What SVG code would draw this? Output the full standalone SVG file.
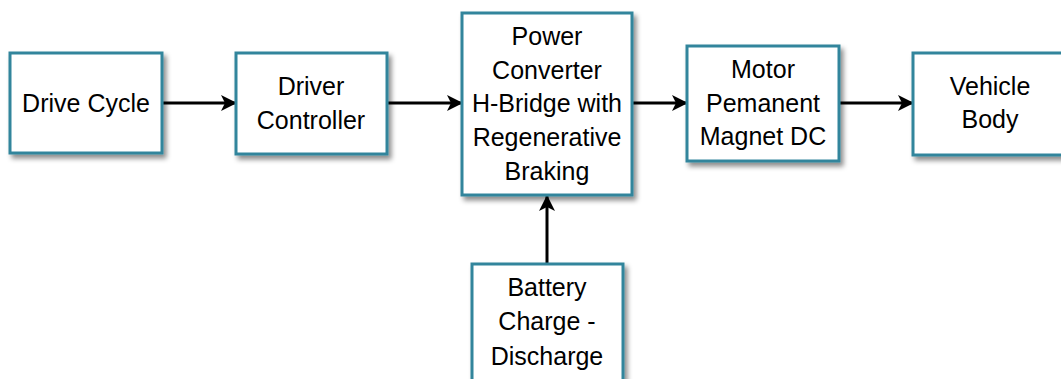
<svg xmlns="http://www.w3.org/2000/svg" width="1061" height="379" viewBox="0 0 1061 379">
<style>
.box{fill:#fff;stroke:#31859C;stroke-width:3;filter:url(#sh)}
.t{font-family:"Liberation Sans",Arial,sans-serif;font-size:25px;fill:#000;text-anchor:middle}
.c{stroke:#000;stroke-width:3;fill:none;marker-end:url(#ah)}
</style>
<defs>
<filter id="sh" x="-10%" y="-10%" width="130%" height="130%">
<feDropShadow dx="3" dy="4" stdDeviation="2.5" flood-color="#000" flood-opacity="0.45"/>
</filter>
<marker id="ah" viewBox="0 0 16 16" refX="15" refY="8" markerWidth="16" markerHeight="16" markerUnits="userSpaceOnUse" orient="auto">
<path d="M0,0 L16,8 L0,16 L4,8 Z" fill="#000"/>
</marker>
</defs>
<rect width="1061" height="379" fill="#fff"/>
<g id="connectors">
<line class="c" x1="162" y1="103" x2="236" y2="103"/>
<line class="c" x1="387" y1="103" x2="462" y2="103"/>
<line class="c" x1="632" y1="103" x2="687" y2="103"/>
<line class="c" x1="839" y1="103" x2="913" y2="103"/>
<line class="c" x1="547" y1="264" x2="547" y2="196"/>
</g>
<g id="drive-cycle">
<rect class="box" x="10" y="53" width="152" height="100"/>
<text class="t" x="86" y="112">Drive Cycle</text>
</g>
<g id="driver-controller">
<rect class="box" x="236" y="53" width="151" height="101"/>
<text class="t" x="311" y="95">Driver</text>
<text class="t" x="311" y="129">Controller</text>
</g>
<g id="power-converter">
<rect class="box" x="462" y="13" width="170" height="182"/>
<text class="t" x="547" y="45">Power</text>
<text class="t" x="547" y="79">Converter</text>
<text class="t" x="547" y="112">H-Bridge with</text>
<text class="t" x="547" y="146">Regenerative</text>
<text class="t" x="547" y="180">Braking</text>
</g>
<g id="motor">
<rect class="box" x="687" y="46" width="152" height="115"/>
<text class="t" x="763" y="78">Motor</text>
<text class="t" x="763" y="112">Pemanent</text>
<text class="t" x="763" y="145">Magnet DC</text>
</g>
<g id="vehicle-body">
<rect class="box" x="913" y="53" width="154" height="102"/>
<text class="t" x="990" y="95">Vehicle</text>
<text class="t" x="990" y="128">Body</text>
</g>
<g id="battery">
<rect class="box" x="472" y="264" width="151" height="130"/>
<text class="t" x="547" y="296">Battery</text>
<text class="t" x="547" y="330">Charge -</text>
<text class="t" x="547" y="365">Discharge</text>
</g>
</svg>
